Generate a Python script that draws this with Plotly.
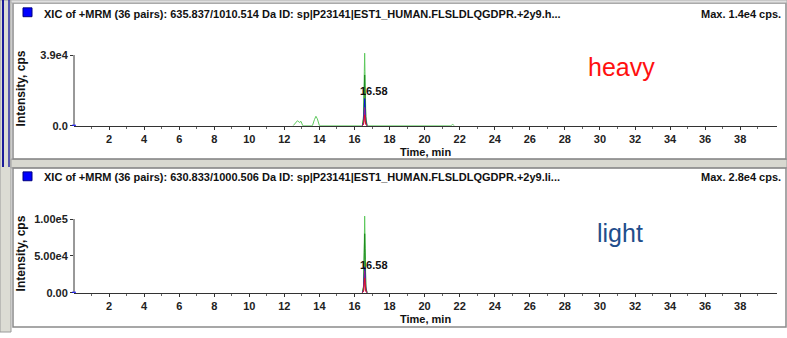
import plotly.graph_objects as go

W, H = 787, 338

# ---------------- data ----------------
x_ticks = [2, 4, 6, 8, 10, 12, 14, 16, 18, 20, 22, 24, 26, 28, 30, 32, 34, 36, 38]

heavy_ticks = [0, 39000]
heavy_ticktext = ["0.0", "3.9e4"]
light_ticks = [0, 50000, 100000]
light_ticktext = ["0.00", "5.00e4", "1.00e5"]

# heavy (top) transitions
heavy_lgreen_t = [12.5, 12.65, 12.75, 12.85, 12.95, 13.05, 13.6, 13.72, 13.8, 13.88, 14.0,
                  16.45, 16.52, 16.56, 16.58, 16.61, 16.65, 16.72, 21.5, 21.6, 21.7]
heavy_lgreen_v = [0, 1500, 2800, 1800, 2400, 0, 0, 3500, 5200, 3800, 0,
                  0, 6000, 30000, 40000, 22000, 5000, 0, 0, 700, 0]
peak_t = [16.45, 16.52, 16.56, 16.58, 16.61, 16.65, 16.72]
heavy_dgreen_v = [0, 4000, 20000, 28000, 15000, 3000, 0]
heavy_blue_v = [0, 2000, 10000, 15000, 8000, 1500, 0]
heavy_purple_v = [0, 1500, 7000, 10000, 5000, 1000, 0]
heavy_red_v = [0, 800, 4000, 6000, 3000, 600, 0]

# light (bottom) transitions
light_lgreen_v = [0, 10000, 70000, 104000, 60000, 8000, 0]
light_dgreen_v = [0, 8000, 55000, 80000, 45000, 6000, 0]
light_blue_v = [0, 4000, 24000, 35000, 20000, 3000, 0]
light_purple_v = [0, 3000, 20000, 30000, 16000, 2500, 0]
light_red_v = [0, 2000, 14000, 20000, 11000, 1500, 0]

peak_label = "16.58"
heavy_title = "XIC of +MRM (36 pairs): 635.837/1010.514 Da ID: sp|P23141|EST1_HUMAN.FLSLDLQGDPR.+2y9.h..."
light_title = "XIC of +MRM (36 pairs): 630.833/1000.506 Da ID: sp|P23141|EST1_HUMAN.FLSLDLQGDPR.+2y9.li..."
heavy_max = "Max. 1.4e4 cps."
light_max = "Max. 2.8e4 cps."

# ---------------- helpers ----------------
def px(x):
    return x / W

def py(y):
    return 1 - y / H

FONT = "Liberation Sans"
LG, DG, BL, PU, RD = "#5DC85D", "#1E8C1E", "#1010E0", "#9A1A9A", "#E01818"

fig = go.Figure()

x_dom = [px(74), px(777)]
x_range = [0, 40.1]

top_bottom, top_top = 128, 46
top_rmax = (top_bottom - top_top) / 72 * 39000
bot_bottom, bot_top = 298, 212
bot_rmax = (bot_bottom - bot_top) / 75 * 100000

def add(t, v, color, xa, ya):
    fig.add_trace(go.Scatter(x=t, y=v, mode="lines", line=dict(color=color, width=1),
                             xaxis=xa, yaxis=ya, showlegend=False, hoverinfo="skip"))

add(heavy_lgreen_t, heavy_lgreen_v, LG, "x", "y")
add(peak_t, heavy_dgreen_v, DG, "x", "y")
add(peak_t, heavy_blue_v, BL, "x", "y")
add(peak_t, heavy_purple_v, PU, "x", "y")
add(peak_t, heavy_red_v, RD, "x", "y")

add(peak_t, light_lgreen_v, LG, "x2", "y2")
add(peak_t, light_dgreen_v, DG, "x2", "y2")
add(peak_t, light_blue_v, BL, "x2", "y2")
add(peak_t, light_purple_v, PU, "x2", "y2")
add(peak_t, light_red_v, RD, "x2", "y2")

tickfont = dict(family=FONT, size=11, color="#222", weight="bold")

xcommon = dict(range=x_range, domain=x_dom, tickmode="array", tickvals=x_ticks,
               ticks="outside", ticklen=3, tickcolor="#333", showline=True, linecolor="#333",
               linewidth=1, showgrid=False, zeroline=False, tickfont=tickfont,
               minor=dict(tickvals=[v - 1 for v in x_ticks] + [39], ticks="outside",
                          ticklen=2, tickcolor="#666"))

fig.update_layout(
    width=W, height=H, margin=dict(l=0, r=0, t=0, b=0),
    paper_bgcolor="white", plot_bgcolor="white",
    xaxis=dict(anchor="y", **xcommon),
    yaxis=dict(domain=[py(top_bottom), py(top_top)], range=[0, top_rmax], tickmode="array",
               tickvals=heavy_ticks, ticktext=heavy_ticktext, ticks="outside", ticklen=3,
               tickcolor="#333", showline=False, showgrid=False, zeroline=False,
               tickfont=tickfont, anchor="x"),
    xaxis2=dict(anchor="y2", **xcommon),
    yaxis2=dict(domain=[py(bot_bottom), py(bot_top)], range=[0, bot_rmax], tickmode="array",
                tickvals=light_ticks, ticktext=light_ticktext, ticks="outside", ticklen=3,
                tickcolor="#333", showline=False, showgrid=False, zeroline=False,
                tickfont=tickfont, anchor="x2"),
)

shapes = []
shapes.append(dict(type="line", xref="paper", yref="y", x0=px(74), x1=px(74), y0=0, y1=39000,
                   line=dict(color="#333", width=1)))
shapes.append(dict(type="line", xref="paper", yref="y2", x0=px(74), x1=px(74), y0=0, y1=100000,
                   line=dict(color="#333", width=1)))

def rect(x0, y0, x1, y1, color, width=1, fill=None):
    d = dict(type="rect", xref="paper", yref="paper", x0=px(x0), x1=px(x1), y0=py(y1), y1=py(y0),
             line=dict(color=color, width=width))
    if fill:
        d["fillcolor"] = fill
    shapes.append(d)

rect(0, 0, 11, 338, "#9a9a9a", 1, "#dcdcd4")
shapes.append(dict(type="line", xref="paper", yref="paper", x0=px(3), x1=px(3), y0=py(0), y1=py(170),
                   line=dict(color="#1a1a9a", width=2)))
shapes.append(dict(type="line", xref="paper", yref="paper", x0=px(9), x1=px(9), y0=py(0), y1=py(170),
                   line=dict(color="#2a2aa0", width=1.5)))
rect(11, 162, 787, 171, "#a0a0a0", 1, "#d8d8d0")
rect(13, 3, 786, 162, "#8a8a8a", 1.5)
rect(13, 171, 786, 333, "#8a8a8a", 1.5)
rect(11, 0, 787, 3, "#b0b0b0", 1, "#e0e0e0")
rect(23, 8, 32, 17, "#000080", 1, "#0000FF")
rect(23, 175, 32, 184, "#000080", 1, "#0000FF")
# small blue markers at the origin
for yr in ("y", "y2"):
    shapes.append(dict(type="path", xref="paper", yref=yr,
                       path=f"M {px(72)},0 L {px(76)},0 L {px(74)},0 Z",
                       line=dict(color="#0000FF", width=2)))
fig.update_layout(shapes=shapes)

tfont = dict(family=FONT, size=11, color="#111", weight="bold")
ann = []
ann.append(dict(x=px(42), y=py(14), xref="paper", yref="paper", text=heavy_title, showarrow=False,
                xanchor="left", yanchor="middle", font=tfont))
ann.append(dict(x=px(783), y=py(14), xref="paper", yref="paper", text=heavy_max, showarrow=False,
                xanchor="right", yanchor="middle", font=tfont))
ann.append(dict(x=px(42), y=py(180), xref="paper", yref="paper", text=light_title, showarrow=False,
                xanchor="left", yanchor="middle", font=tfont))
ann.append(dict(x=px(783), y=py(180), xref="paper", yref="paper", text=light_max, showarrow=False,
                xanchor="right", yanchor="middle", font=tfont))
for yy in (155, 325):
    ann.append(dict(x=px(425), y=py(yy), xref="paper", yref="paper", text="Time, min", showarrow=False,
                    xanchor="center", yanchor="middle", font=tfont))
for yy in (90, 258):
    ann.append(dict(x=px(21), y=py(yy), xref="paper", yref="paper", text="Intensity, cps",
                    showarrow=False, textangle=-90, xanchor="center", yanchor="middle",
                    font=dict(family=FONT, size=12, color="#111", weight="bold")))
ann.append(dict(x=px(374), y=py(93), xref="paper", yref="paper", text=peak_label, showarrow=False,
                xanchor="center", yanchor="middle", font=tfont))
ann.append(dict(x=px(374), y=py(270), xref="paper", yref="paper", text=peak_label, showarrow=False,
                xanchor="center", yanchor="middle", font=tfont))
ann.append(dict(x=px(621), y=py(68), xref="paper", yref="paper", text="heavy", showarrow=False,
                xanchor="center", yanchor="middle",
                font=dict(family="Liberation Sans", size=25, color="#FF1010")))
ann.append(dict(x=px(620), y=py(237), xref="paper", yref="paper", text="light", showarrow=False,
                xanchor="center", yanchor="middle",
                font=dict(family="Liberation Sans", size=25, color="#1F4E8C")))
fig.update_layout(annotations=ann)

fig.write_html("out.html")
